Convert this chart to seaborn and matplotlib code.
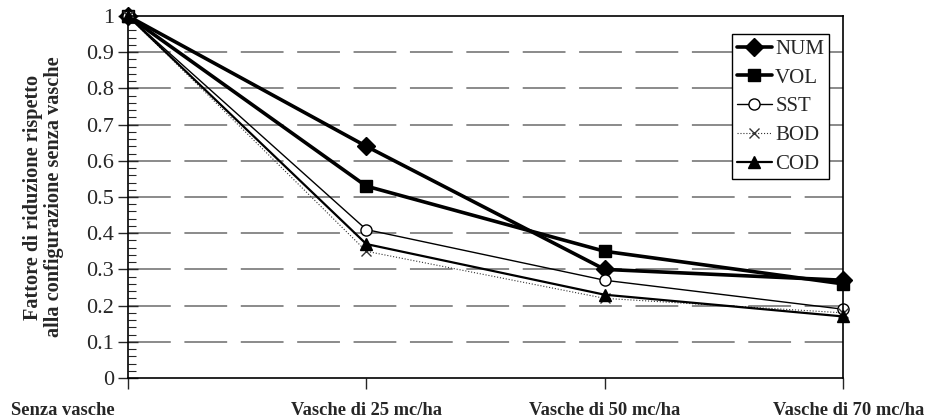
import matplotlib
matplotlib.use("Agg")
import matplotlib.pyplot as plt
import matplotlib.transforms as mtransforms
from matplotlib.ticker import MultipleLocator
import seaborn as sns

# categories on the x axis
scenari = ["Senza vasche", "Vasche di 25 mc/ha", "Vasche di 50 mc/ha", "Vasche di 70 mc/ha"]

# reduction factors
num = [1.0, 0.64, 0.30, 0.27]
vol = [1.0, 0.53, 0.35, 0.26]
sst = [1.0, 0.41, 0.27, 0.19]
bod = [1.0, 0.35, 0.22, 0.18]
cod = [1.0, 0.37, 0.23, 0.17]

sns.set_style("ticks")
plt.rcParams["font.family"] = ["Liberation Serif", "DejaVu Serif"]

fig = plt.figure(figsize=(9.3, 4.19), dpi=100)
ax = fig.add_axes([0.1376, 0.0979, 0.9065 - 0.1376, 0.9618 - 0.0979])

# dashed grey grid under the lines
for v in [0.1, 0.2, 0.3, 0.4, 0.5, 0.6, 0.7, 0.8, 0.9]:
    ax.axhline(v, color="#8a8a8a", lw=1.4, ls=(0, (22, 7)), zorder=0)

x = list(range(len(scenari)))
series = [
    ("NUM", num, dict(marker="D", ms=9, lw=2.6, color="black", ls="-", mfc="black")),
    ("VOL", vol, dict(marker="s", ms=8, lw=2.6, color="black", ls="-", mfc="black")),
    ("SST", sst, dict(marker="o", ms=8, lw=1.0, color="black", ls="-", mfc="white")),
    ("BOD", bod, dict(marker="x", ms=7, lw=0.8, color="#333333", ls=":", mfc="none")),
    ("COD", cod, dict(marker="^", ms=9, lw=1.6, color="black", ls="-", mfc="black")),
]
for name, vals, st in series:
    sns.lineplot(x=x, y=vals, ax=ax, label=name, markeredgecolor=st["color"],
                 markeredgewidth=1.0, clip_on=False, **st)

ax.set_xlim(0, 3)
ax.set_ylim(0, 1)
ax.set_xticks(x)
ax.set_xticklabels(scenari, fontsize=13.3, fontweight="bold")
ax.yaxis.set_minor_locator(MultipleLocator(0.02))
ax.set_yticks([0, 0.1, 0.2, 0.3, 0.4, 0.5, 0.6, 0.7, 0.8, 0.9, 1])
ax.set_yticklabels(["0", "0.1", "0.2", "0.3", "0.4", "0.5", "0.6", "0.7", "0.8", "0.9", "1"], fontsize=16)
ax.tick_params(axis="y", which="major", direction="inout", length=14, width=1, pad=3)
ax.tick_params(axis="y", which="minor", direction="in", length=6, width=0.8)
ax.tick_params(axis="x", which="major", direction="out", length=8, width=1, pad=9)

lbls = ax.get_xticklabels()
lbls[0].set_horizontalalignment("right")
lbls[0].set_transform(lbls[0].get_transform() + mtransforms.ScaledTranslation(-0.13, 0, fig.dpi_scale_trans))
lbls[-1].set_transform(lbls[-1].get_transform() + mtransforms.ScaledTranslation(0.06, 0, fig.dpi_scale_trans))

ax.set_xlabel("")
ax.set_ylabel("Fattore di riduzione rispetto\nalla configurazione senza vasche",
              fontsize=14.6, fontweight="bold", labelpad=16, linespacing=1.05)

for sp in ax.spines.values():
    sp.set_color("black")
    sp.set_linewidth(1.2)

leg = ax.legend(loc="upper right", bbox_to_anchor=(0.981, 0.95), fontsize=15,
                frameon=True, fancybox=False, handlelength=1.7, borderpad=0.25,
                labelspacing=0.44, handletextpad=0.15, borderaxespad=0)
leg.get_frame().set_edgecolor("black")
leg.get_frame().set_linewidth(1.0)
leg.get_frame().set_alpha(1)

fig.savefig("out.png", dpi=100)
